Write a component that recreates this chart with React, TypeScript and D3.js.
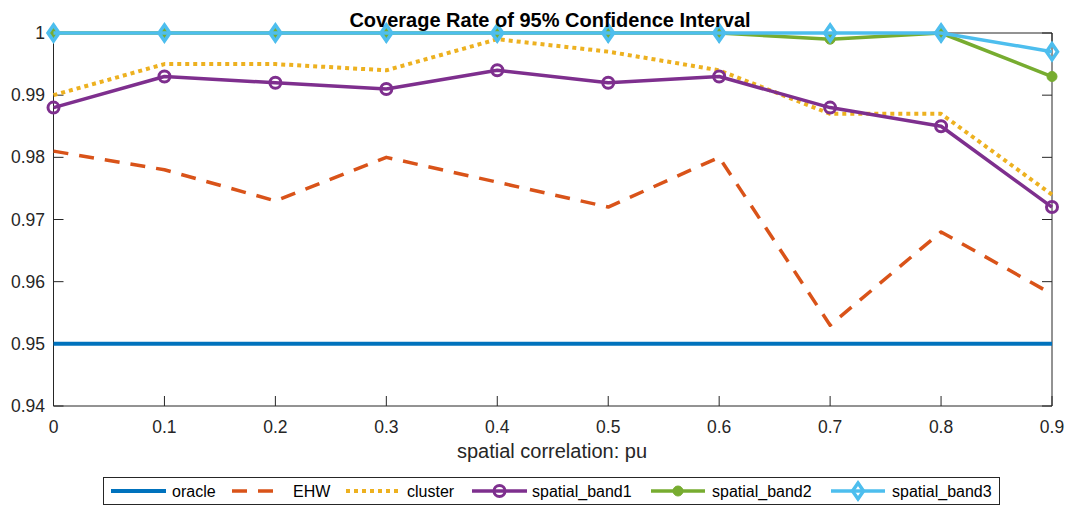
import React from "react";
import * as d3 from "d3";

// spatial correlation values on the x axis
const pu = [0, 0.1, 0.2, 0.3, 0.4, 0.5, 0.6, 0.7, 0.8, 0.9];

// coverage rate per method
const oracle = [0.95, 0.95, 0.95, 0.95, 0.95, 0.95, 0.95, 0.95, 0.95, 0.95];
const ehw = [0.981, 0.978, 0.973, 0.98, 0.976, 0.972, 0.98, 0.953, 0.968, 0.958];
const cluster = [0.99, 0.995, 0.995, 0.994, 0.999, 0.997, 0.994, 0.987, 0.987, 0.974];
const spatialBand1 = [0.988, 0.993, 0.992, 0.991, 0.994, 0.992, 0.993, 0.988, 0.985, 0.972];
const spatialBand2 = [1, 1, 1, 1, 1, 1, 1, 0.999, 1, 0.993];
const spatialBand3 = [1, 1, 1, 1, 1, 1, 1, 1, 1, 0.997];

const xTicks = [0, 0.1, 0.2, 0.3, 0.4, 0.5, 0.6, 0.7, 0.8, 0.9];
const yTicks = [0.94, 0.95, 0.96, 0.97, 0.98, 0.99, 1];

const W = 1072;
const H = 508;
const plot = { left: 53.5, right: 1052, top: 33, bottom: 406 };
const FONT = "'Liberation Sans', Arial, Helvetica, sans-serif";
const AXIS = "#262626";

type Marker = "none" | "circle" | "dot" | "diamond";
interface Series {
  name: string;
  values: number[];
  color: string;
  dash?: string;
  width: number;
  marker: Marker;
  cap?: "butt" | "round" | "square";
}

const series: Series[] = [
  { name: "oracle", values: oracle, color: "#0072BD", width: 4, marker: "none" },
  { name: "EHW", values: ehw, color: "#D95319", width: 3.5, dash: "15 11", marker: "none", cap: "butt" },
  { name: "cluster", values: cluster, color: "#EDB120", width: 4, dash: "4 4", marker: "none", cap: "butt" },
  { name: "spatial_band1", values: spatialBand1, color: "#7E2F8E", width: 3.5, marker: "circle" },
  { name: "spatial_band2", values: spatialBand2, color: "#77AC30", width: 3.5, marker: "dot" },
  { name: "spatial_band3", values: spatialBand3, color: "#4DBEEE", width: 3.5, marker: "diamond" },
];

// legend item x positions: line start, line end, text start
const legendItems = [
  [111, 166, 172],
  [232, 277, 293],
  [346, 400, 407],
  [472, 527, 532],
  [651, 705, 712],
  [831, 885, 892],
];

function MarkerShape({ kind, x, y, color }: { kind: Marker; x: number; y: number; color: string }) {
  if (kind === "circle") {
    return <circle cx={x} cy={y} r={5.5} fill="none" stroke={color} strokeWidth={3} />;
  }
  if (kind === "dot") {
    return <circle cx={x} cy={y} r={5} fill={color} stroke={color} strokeWidth={1} />;
  }
  if (kind === "diamond") {
    const hw = 5.5;
    const hh = 8;
    return (
      <path
        d={`M${x},${y - hh}L${x + hw},${y}L${x},${y + hh}L${x - hw},${y}Z`}
        fill="none"
        stroke={color}
        strokeWidth={3.5}
        strokeLinejoin="miter"
      />
    );
  }
  return null;
}

export default function App() {
  const x = d3.scaleLinear().domain([0, 0.9]).range([plot.left, plot.right]);
  const y = d3.scaleLinear().domain([0.94, 1]).range([plot.bottom, plot.top]);

  const line = d3
    .line<number>()
    .x((_, i) => x(pu[i]))
    .y((d) => y(d));

  const tickLen = 10;

  return (
    <svg
      width={W}
      height={H}
      style={{ position: "absolute", left: 0, top: 0, background: "#fff" }}
      fontFamily={FONT}
    >
      <rect x={0} y={0} width={W} height={H} fill="#fff" />

      {/* axes box */}
      <g stroke={AXIS} strokeWidth={1} fill="none">
        <line x1={plot.left} x2={plot.right} y1={plot.bottom} y2={plot.bottom} />
        <line x1={plot.left} x2={plot.left} y1={plot.top} y2={plot.bottom} />
        <line x1={plot.left} x2={plot.right} y1={plot.top} y2={plot.top} />
        <line x1={plot.right} x2={plot.right} y1={plot.top} y2={plot.bottom} />
        {xTicks.map((t) => (
          <g key={`xt${t}`}>
            <line x1={x(t)} x2={x(t)} y1={plot.bottom} y2={plot.bottom - tickLen} />
            <line x1={x(t)} x2={x(t)} y1={plot.top} y2={plot.top + tickLen} />
          </g>
        ))}
        {yTicks.map((t) => (
          <g key={`yt${t}`}>
            <line x1={plot.left} x2={plot.left + tickLen} y1={y(t)} y2={y(t)} />
            <line x1={plot.right} x2={plot.right - tickLen} y1={y(t)} y2={y(t)} />
          </g>
        ))}
      </g>

      {/* tick labels */}
      <g fill={AXIS} fontSize={17.5}>
        {xTicks.map((t) => (
          <text key={`xl${t}`} x={x(t)} y={433} textAnchor="middle">
            {d3.format("")(t)}
          </text>
        ))}
        {yTicks.map((t) => (
          <text key={`yl${t}`} x={45} y={y(t)} textAnchor="end" dominantBaseline="central">
            {d3.format("")(t)}
          </text>
        ))}
      </g>

      {/* series */}
      {series.map((s) => (
        <g key={s.name}>
          <path
            d={line(s.values) ?? ""}
            fill="none"
            stroke={s.color}
            strokeWidth={s.width}
            strokeDasharray={s.dash}
            strokeLinecap={s.cap ?? "butt"}
            strokeLinejoin="round"
          />
          {s.marker !== "none" &&
            s.values.map((v, i) => (
              <MarkerShape key={i} kind={s.marker} x={x(pu[i])} y={y(v)} color={s.color} />
            ))}
        </g>
      ))}

      {/* title and axis label */}
      <text x={550} y={27} textAnchor="middle" fontSize={20} fontWeight="bold" fill="#000">
        Coverage Rate of 95% Confidence Interval
      </text>
      <text x={552} y={458} textAnchor="middle" fontSize={20} fill={AXIS}>
        spatial correlation: pu
      </text>

      {/* legend */}
      <g>
        <rect x={103.5} y={477.5} width={896} height={27} fill="#fff" stroke={AXIS} strokeWidth={1} />
        {series.map((s, i) => {
          const [x1, x2, tx] = legendItems[i];
          const ly = 491;
          return (
            <g key={`lg${s.name}`}>
              <line
                x1={x1}
                x2={x2}
                y1={ly}
                y2={ly}
                stroke={s.color}
                strokeWidth={s.width}
                strokeDasharray={s.dash}
                strokeLinecap="butt"
              />
              <MarkerShape kind={s.marker} x={(x1 + x2) / 2} y={ly} color={s.color} />
              <text x={tx} y={ly} dominantBaseline="central" fontSize={16} fill="#000">
                {s.name}
              </text>
            </g>
          );
        })}
      </g>
    </svg>
  );
}
